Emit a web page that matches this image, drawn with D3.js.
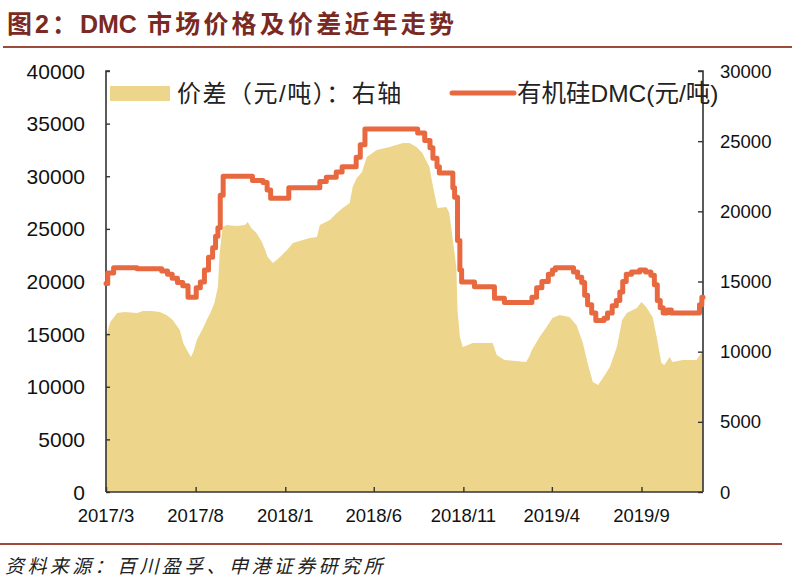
<!DOCTYPE html>
<html>
<head>
<meta charset="utf-8">
<script src="https://cdn.jsdelivr.net/npm/d3@7/dist/d3.min.js"></script>
<style>
  html, body { margin: 0; padding: 0; background: #fff; }
  svg { display: block; font-family: "Liberation Sans", Arial, "Noto Sans CJK SC", sans-serif; }
</style>
</head>
<body>
<svg id="chart" width="796" height="582"></svg>
<script>
// ---------- data ----------
const titlePre = "图2：";
const titleMid = "DMC";
const titlePost = " 市场价格及价差近年走势";
const sourceText = "资料来源：百川盈孚、申港证券研究所";
const spreadName = "价差（元/吨）：右轴";
const dmcName = "有机硅DMC(元/吨)";

const xTickLabels = ["2017/3", "2017/8", "2018/1", "2018/6", "2018/11", "2019/4", "2019/9"];
const leftTicks = [0, 5000, 10000, 15000, 20000, 25000, 30000, 35000, 40000];
const rightTicks = [0, 5000, 10000, 15000, 20000, 25000, 30000];

const dmcDates = ["2017-03-01","2017-03-04","2017-03-14","2017-04-23","2017-06-04","2017-06-14","2017-06-22","2017-07-01","2017-07-10","2017-07-19",
  "2017-08-02","2017-08-09","2017-08-16","2017-08-23","2017-08-30","2017-09-04","2017-09-08","2017-09-12","2017-09-17","2017-11-06",
  "2017-11-24","2017-12-01","2017-12-07","2018-01-07","2018-03-01","2018-03-12","2018-03-29","2018-04-08","2018-05-02","2018-05-09",
  "2018-05-17","2018-08-15","2018-08-27","2018-09-05","2018-09-10","2018-09-17","2018-09-21","2018-10-14","2018-10-17","2018-10-22",
  "2018-10-26","2018-10-29","2018-11-20","2018-12-24","2019-01-10","2019-02-26","2019-03-06","2019-03-15","2019-03-26","2019-04-02",
  "2019-04-07","2019-05-08","2019-05-15","2019-05-22","2019-05-27","2019-06-01","2019-06-08","2019-06-15","2019-06-29","2019-07-05",
  "2019-07-13","2019-07-20","2019-07-26","2019-07-31","2019-08-06","2019-08-15","2019-08-29","2019-09-08","2019-09-17","2019-09-23",
  "2019-09-28","2019-10-03","2019-10-08","2019-10-15","2019-10-22","2019-12-09","2019-12-13","2019-12-15"];
const dmcValues = [19800,20800,21300,21200,21000,20700,20300,19900,19600,18500,
  19400,19950,21100,22300,23200,24300,25100,28200,30000,29600,
  29400,28700,27900,28900,29500,29900,30400,30900,31800,33000,
  34500,34100,33400,32700,31700,30900,30300,28900,28000,23900,
  21100,19950,19500,18400,18000,18500,19400,20000,20700,21100,
  21300,20900,20400,19900,18700,17800,17000,16300,16500,17000,
  17700,18200,19000,20000,20700,20900,21100,20900,20600,19700,
  18200,17500,17000,17300,17000,17800,18500,18500];

const spreadDates = ["2017-03-01","2017-03-08","2017-03-20","2017-04-02","2017-04-23","2017-05-03","2017-05-18","2017-06-01","2017-06-13","2017-06-23",
  "2017-07-05","2017-07-11","2017-07-19","2017-07-24","2017-07-28","2017-08-03","2017-08-12","2017-08-20","2017-08-26","2017-09-02",
  "2017-09-08","2017-09-11","2017-09-16","2017-09-23","2017-10-10","2017-10-24","2017-10-29","2017-11-04","2017-11-13","2017-11-23",
  "2017-12-02","2017-12-11","2017-12-23","2018-01-04","2018-01-14","2018-01-31","2018-02-12","2018-02-24","2018-03-01","2018-03-18",
  "2018-03-30","2018-04-09","2018-04-21","2018-04-26","2018-05-03","2018-05-12","2018-05-20","2018-06-06","2018-06-28","2018-07-21",
  "2018-08-01","2018-08-13","2018-08-23","2018-09-04","2018-09-09","2018-09-16","2018-09-18","2018-10-03","2018-10-08","2018-10-14",
  "2018-10-20","2018-10-22","2018-10-26","2018-10-31","2018-11-17","2018-12-04","2018-12-21","2018-12-28","2019-01-10","2019-02-16",
  "2019-02-21","2019-02-26","2019-03-11","2019-03-23","2019-04-02","2019-04-14","2019-05-01","2019-05-13","2019-05-24","2019-06-01",
  "2019-06-10","2019-06-19","2019-06-27","2019-07-09","2019-07-21","2019-07-30","2019-08-07","2019-08-24","2019-09-01","2019-09-09",
  "2019-09-20","2019-09-27","2019-10-05","2019-10-10","2019-10-19","2019-10-24","2019-11-10","2019-12-04","2019-12-12","2019-12-15"];
const spreadValues = [11050,12100,12750,12830,12750,12900,12900,12830,12600,12250,
  11550,10600,9980,9620,9980,10830,11550,12250,12750,13470,
  14600,17030,18880,19030,18950,19030,19240,18810,18460,17740,
  16750,16320,16750,17240,17740,17960,18100,18170,19030,19380,
  19880,20240,20590,21730,22380,22800,23870,24370,24580,24870,
  24870,24580,24160,23160,22020,20590,20240,20310,19880,17960,
  16030,12970,11050,10330,10620,10620,10620,9760,9410,9260,
  9620,10120,11050,11760,12400,12610,12470,11900,10620,9190,
  7840,7620,8120,8910,10330,12260,12750,13110,13540,13180,
  12470,11050,9190,9050,9620,9260,9410,9410,9900,9900];

// ---------- setup ----------
const parse = d3.timeParse("%Y-%m-%d");
const dmc = dmcDates.map((d, i) => ({ date: parse(d), value: dmcValues[i] }));
const spread = spreadDates.map((d, i) => ({ date: parse(d), value: spreadValues[i] }));
const xTickDates = xTickLabels.map(s => d3.timeParse("%Y/%m")(s));

const svg = d3.select("#chart");
const L = 106, R = 703, T = 71, B = 492;

const x = d3.scaleTime().domain([parse("2017-03-01"), parse("2019-12-15")]).range([L, R]);
const yL = d3.scaleLinear().domain([0, 40000]).range([B, T]);
const yR = d3.scaleLinear().domain([0, 30000]).range([B, T]);

const gold = "#EDD68B";
const red = "#E8693F";
const axisColor = "#333";
const titleColor = "#7A2A22";
const ruleColor = "#9C4A3A";

// Title
const tt = svg.append("text")
  .attr("x", 7).attr("y", 33)
  .attr("fill", titleColor)
  .attr("font-size", 25).attr("font-weight", "bold");
tt.append("tspan").attr("letter-spacing", 3).text(titlePre);
tt.append("tspan").attr("letter-spacing", 0).text(titleMid);
tt.append("tspan").attr("letter-spacing", 3.2).text(titlePost);
svg.append("line")
  .attr("x1", 3).attr("x2", 792).attr("y1", 47).attr("y2", 47)
  .attr("stroke", ruleColor).attr("stroke-width", 2);

// Area (spread, right axis)
svg.append("path")
  .datum(spread)
  .attr("fill", gold)
  .attr("d", d3.area().x(d => x(d.date)).y0(B).y1(d => yR(d.value)).curve(d3.curveLinear));

// Axes
const gL = svg.append("g").attr("transform", `translate(${L},0)`)
  .call(d3.axisRight(yL).tickValues(leftTicks).tickSize(4));
gL.selectAll("text").remove();
svg.append("g").selectAll("text").data(leftTicks).join("text")
  .attr("x", 85).attr("y", d => yL(d)).attr("dy", "0.36em")
  .attr("text-anchor", "end").attr("font-size", 21).attr("fill", "#111")
  .text(d => d);

const gR = svg.append("g").attr("transform", `translate(${R},0)`)
  .call(d3.axisLeft(yR).tickValues(rightTicks).tickSize(5));
gR.selectAll("text").remove();
svg.append("g").selectAll("text").data(rightTicks).join("text")
  .attr("x", 720).attr("y", d => yR(d)).attr("dy", "0.36em")
  .attr("text-anchor", "start").attr("font-size", 18.5).attr("fill", "#111")
  .text(d => d);

const gX = svg.append("g").attr("transform", `translate(0,${B})`)
  .call(d3.axisTop(x).tickValues(xTickDates).tickSize(5));
gX.selectAll("text").remove();
svg.append("g").selectAll("text").data(xTickDates).join("text")
  .attr("x", d => x(d)).attr("y", 522)
  .attr("text-anchor", "middle").attr("font-size", 18.5).attr("fill", "#111")
  .text((d, i) => xTickLabels[i]);

[gL, gR, gX].forEach(g => {
  g.selectAll(".domain").attr("stroke", axisColor).attr("stroke-width", 1.6);
  g.selectAll(".tick line").attr("stroke", axisColor).attr("stroke-width", 1.4);
});
gL.select(".domain").attr("d", `M4,${T}H0V${B}`);
gR.select(".domain").attr("d", `M-5,${T}H0V${B}`);
gX.select(".domain").attr("d", `M${L},0H${R}`);

// DMC line (left axis)
svg.append("path")
  .datum(dmc)
  .attr("fill", "none")
  .attr("stroke", red).attr("stroke-width", 5)
  .attr("stroke-linejoin", "round").attr("stroke-linecap", "round")
  .attr("d", d3.line().x(d => x(d.date)).y(d => yL(d.value)).curve(d3.curveStepAfter));

// Legend
const lg = svg.append("g");
lg.append("rect").attr("x", 110).attr("y", 86).attr("width", 60).attr("height", 15).attr("fill", gold);
lg.append("text").attr("x", 177).attr("y", 102).attr("font-size", 24).attr("fill", "#222")
  .attr("letter-spacing", 1.5)
  .text(spreadName);
lg.append("line").attr("x1", 452).attr("x2", 514).attr("y1", 93).attr("y2", 93)
  .attr("stroke", red).attr("stroke-width", 5).attr("stroke-linecap", "round");
lg.append("text").attr("x", 517).attr("y", 102).attr("font-size", 24.5).attr("fill", "#222")
  .text(dmcName);

// Bottom rule and source
svg.append("line")
  .attr("x1", 0).attr("x2", 782).attr("y1", 544).attr("y2", 544)
  .attr("stroke", ruleColor).attr("stroke-width", 2);
svg.append("text")
  .attr("x", 5).attr("y", 573)
  .attr("font-size", 19).attr("font-style", "italic").attr("fill", "#222")
  .attr("letter-spacing", 3.4)
  .text(sourceText);
</script>
</body>
</html>
